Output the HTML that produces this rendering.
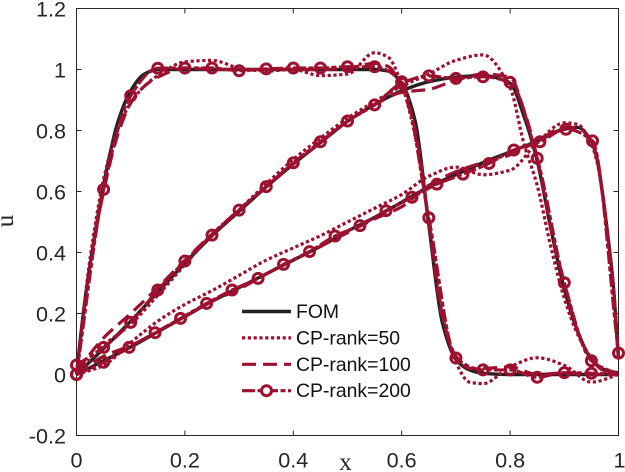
<!DOCTYPE html>
<html>
<head>
<meta charset="utf-8">
<title>FOM vs CP-rank</title>
<style>
html,body{margin:0;padding:0;background:#fff;width:625px;height:472px;overflow:hidden}
svg{display:block}
text{font-family:"Liberation Sans",sans-serif;fill:#262626}
</style>
</head>
<body>
<svg id="chart" width="625" height="472" viewBox="0 0 625 472" xmlns="http://www.w3.org/2000/svg"></svg>
<script>
// ---- axis data ----
const xTicks = [0, 0.2, 0.4, 0.6, 0.8, 1];
const xTickLabels = ["0", "0.2", "0.4", "0.6", "0.8", "1"];
const yTicks = [-0.2, 0, 0.2, 0.4, 0.6, 0.8, 1, 1.2];
const yTickLabels = ["-0.2", "0", "0.2", "0.4", "0.6", "0.8", "1", "1.2"];
const legendLabels = ["FOM", "CP-rank=50", "CP-rank=100", "CP-rank=200"];

// ---- snapshot A (earliest front) ----
const xA = [0,.0125,.025,.05,.075,.1,.125,.15,.2,.25,.3,.35,.4,.45,.5,.55,.575,.6,.625,.65,.675,.7,.725,.75,.8,.85,.9,.95,1];
const fomA = [0,.2,.36,.62,.82,.93,.985,1,1,1,1,1,1,1,1,1,.995,.955,.83,.49,.17,.05,.015,.004,0,0,0,0,0];
const cp50A = [0,.2,.38,.64,.80,.89,.945,.98,1.025,1.03,1.005,.995,1.0,.98,.985,1.055,1.04,.95,.78,.50,.2,.04,-.025,-.03,.025,.055,.03,-.025,0];
const cp100A = [0,.19,.36,.6,.78,.89,.945,.975,1.005,1,1,1,1,1,1.005,1.02,1.01,.94,.8,.5,.19,.06,.02,.02,.025,0,.005,0,0];
const xMarkA = [0,.05,.1,.15,.2,.25,.3,.35,.4,.45,.5,.55,.6,.65,.7,.75,.8,.85,.9,.95,1];
const cp200A = [0,.607,.914,1.004,1.005,1.005,.996,1.002,1.005,1.005,1.009,1.009,.96,.514,.054,.015,.015,-.009,.006,.004,0];

// ---- snapshot B (middle front) ----
const xB = [0,.05,.1,.15,.2,.25,.3,.35,.4,.45,.5,.55,.6,.65,.7,.75,.8,.825,.85,.875,.9,.925,.95,.975,1];
const fomB = [0,.085,.175,.27,.365,.455,.535,.615,.69,.76,.83,.885,.93,.96,.975,.98,.955,.85,.7,.48,.28,.14,.05,.015,.005];
const cp50B = [0,.095,.165,.26,.36,.46,.54,.625,.705,.775,.84,.895,.945,.985,1.03,1.048,.94,.76,.62,.42,.25,.13,.055,.01,0];
const cp100B = [.01,.12,.2,.285,.375,.46,.54,.615,.69,.76,.83,.885,.925,.935,.965,.985,.975,.87,.71,.48,.3,.14,.05,.01,0];
const xMarkB = [0,.05,.1,.15,.2,.25,.3,.35,.4,.45,.5,.55,.6,.65,.7,.75,.8,.85,.9,.95,1];
const cp200B = [.031,.089,.171,.277,.372,.457,.539,.616,.694,.763,.831,.884,.955,.979,.971,.976,.958,.709,.301,.045,0];

// ---- snapshot C (latest front) ----
const xC = [0,.05,.1,.15,.2,.25,.3,.35,.4,.45,.5,.55,.6,.65,.7,.75,.8,.85,.9,.925,.95,.96,.97,.98,.99,1];
const fomC = [0,.045,.09,.14,.19,.24,.285,.33,.375,.42,.47,.515,.565,.615,.655,.695,.73,.765,.805,.81,.765,.71,.6,.46,.3,.05];
const cp50C = [0,.03,.105,.175,.23,.275,.325,.375,.415,.455,.5,.545,.59,.65,.68,.655,.67,.76,.825,.82,.755,.7,.6,.46,.3,.05];
const cp100C = [0,.06,.095,.14,.19,.24,.28,.33,.375,.42,.465,.51,.55,.62,.665,.695,.72,.765,.81,.81,.76,.71,.6,.46,.3,.05];
const xMarkC = [0,.05,.097,.145,.192,.24,.287,.335,.382,.43,.477,.523,.571,.619,.665,.713,.761,.807,.855,.903,.952,1];
const cp200C = [0,.04,.089,.137,.184,.233,.277,.315,.361,.403,.454,.488,.537,.581,.624,.657,.692,.736,.763,.804,.766,.07];

// ---- axis functions ----
const axisLeft = 76.5, axisRight = 618.5, axisTop = 8.5, axisBottom = 435.5;
const xMin = 0, xMax = 1, yMin = -0.2, yMax = 1.2;
function xScale(v){ return axisLeft + (v - xMin) / (xMax - xMin) * (axisRight - axisLeft); }
function yScale(v){ return axisBottom - (v - yMin) / (yMax - yMin) * (axisBottom - axisTop); }

const RED = "#9e1030", INK = "#262626";
const svg = document.getElementById("chart");
function make(tag, attrs, parent){
  const el = document.createElementNS("http://www.w3.org/2000/svg", tag);
  for (const k in attrs) el.setAttribute(k, attrs[k]);
  (parent || svg).appendChild(el);
  return el;
}

// monotone cubic path through data points
function pathFor(xs, us){
  const px = xs.map(xScale), py = us.map(yScale), n = px.length;
  const d = [], m = new Array(n);
  for (let i = 0; i < n - 1; i++) d[i] = (py[i+1] - py[i]) / (px[i+1] - px[i]);
  m[0] = d[0]; m[n-1] = d[n-2];
  for (let i = 1; i < n - 1; i++) m[i] = d[i-1] * d[i] <= 0 ? 0 : 2 * d[i-1] * d[i] / (d[i-1] + d[i]);
  let s = "M" + px[0].toFixed(2) + " " + py[0].toFixed(2);
  for (let i = 0; i < n - 1; i++) {
    const h = (px[i+1] - px[i]) / 3;
    s += "C" + (px[i] + h).toFixed(2) + " " + (py[i] + m[i] * h).toFixed(2) + " " +
         (px[i+1] - h).toFixed(2) + " " + (py[i+1] - m[i+1] * h).toFixed(2) + " " +
         px[i+1].toFixed(2) + " " + py[i+1].toFixed(2);
  }
  return s;
}

// ---- axes ----
const box = make("rect", {x: axisLeft, y: axisTop, width: axisRight - axisLeft, height: axisBottom - axisTop, fill: "none", stroke: INK, "stroke-width": 1});



xTicks.forEach(function(t, i){
  const px = xScale(t);
  const a = make("path", {d: "M" + px + " " + axisBottom + "v-5M" + px + " " + axisTop + "v5", stroke: INK, "stroke-width": 1, fill: "none"});
  
  
  const lab = make("text", {x: i === xTicks.length - 1 ? px + 1 : px, y: 467.5, "text-anchor": "middle", "font-size": 21.6});
  lab.textContent = xTickLabels[i];
  
  
});
yTicks.forEach(function(t, i){
  const py = yScale(t);
  const a = make("path", {d: "M" + axisLeft + " " + py + "h5M" + axisRight + " " + py + "h-5", stroke: INK, "stroke-width": 1, fill: "none"});
  
  
  const lab = make("text", {x: 66, y: py + 8, "text-anchor": "end", "font-size": 21.6});
  lab.textContent = yTickLabels[i];
  
  
});

const xTitle = make("text", {x: 345.5, y: 470, "text-anchor": "middle", "font-size": 25, style: "font-family:'Liberation Serif',serif"});
xTitle.textContent = "x";



const yTitle = make("text", {x: 0, y: 0, "text-anchor": "middle", "font-size": 25, transform: "translate(13 221) rotate(-90)", style: "font-family:'Liberation Serif',serif"});
yTitle.textContent = "u";



// ---- series ----
const FOM_STYLE = {stroke: "#222222", "stroke-width": 3.4, fill: "none"};
const CP50_STYLE = {stroke: RED, "stroke-width": 3.2, fill: "none", "stroke-dasharray": "3.2 2.6"};
const CP100_STYLE = {stroke: RED, "stroke-width": 3.2, fill: "none", "stroke-dasharray": "14 7"};
const CP200_STYLE = {stroke: RED, "stroke-width": 3.2, fill: "none", "stroke-dasharray": "13 2.5 5 2.5"};

function line(xs, us, style, parent){
  const attrs = Object.assign({d: pathFor(xs, us), "stroke-linejoin": "round"}, style);
  return make("path", attrs, parent);
}
function marks(xs, us, lastMarker, parent){
  const count = lastMarker ? xs.length : xs.length - 1;
  for (let i = 0; i < count; i++) {
    const c = make("circle", {cx: xScale(xs[i]), cy: yScale(us[i]), r: 5, fill: "none", stroke: RED, "stroke-width": 3}, parent);
    
    
  }
}

const fomLineA = line(xA, fomA, FOM_STYLE);


const fomLineB = line(xB, fomB, FOM_STYLE);


const fomLineC = line(xC, fomC, FOM_STYLE);



const cp50LineA = line(xA, cp50A, CP50_STYLE);


const cp50LineB = line(xB, cp50B, CP50_STYLE);


const cp50LineC = line(xC, cp50C, CP50_STYLE);



const cp100LineA = line(xA, cp100A, CP100_STYLE);


const cp100LineB = line(xB, cp100B, CP100_STYLE);


const cp100LineC = line(xC, cp100C, CP100_STYLE);



const cp200LineA = line(xMarkA, cp200A, CP200_STYLE);


const cp200LineB = line(xMarkB, cp200B, CP200_STYLE);


const cp200LineC = line(xMarkC, cp200C, CP200_STYLE);



marks(xMarkA, cp200A, false);
marks(xMarkB, cp200B, false);
marks(xMarkC, cp200C, true);

// ---- legend ----
const legend = make("g", {});


const legendStyles = [FOM_STYLE, CP50_STYLE, CP100_STYLE, CP200_STYLE];
legendLabels.forEach(function(label, i){
  const ly = 311.5 + i * 26.4;
  const entry = make("g", {}, legend);
  
  
  make("path", Object.assign({d: "M242 " + ly + "H291"}, legendStyles[i]), entry);
  if (i === 3) make("circle", {cx: 266.5, cy: ly, r: 5, fill: "#fff", stroke: RED, "stroke-width": 3}, entry);
  const t = make("text", {x: 296, y: ly + 6.5, "font-size": 19.4, style: "fill:#111"}, entry);
  t.textContent = label;
});
</script>
</body>
</html>
